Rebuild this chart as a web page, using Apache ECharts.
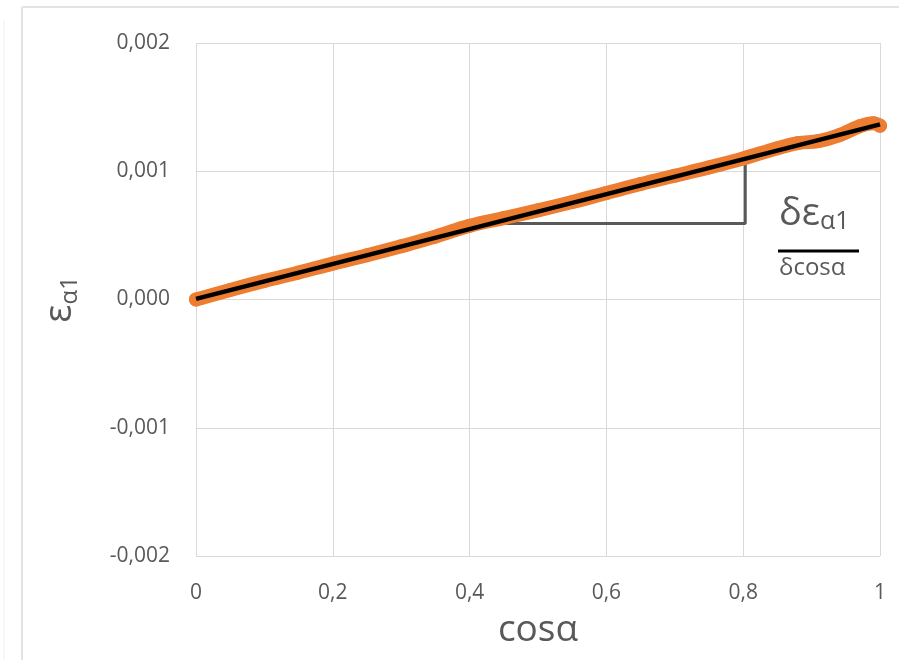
<!DOCTYPE html>
<html>
<head>
<meta charset="utf-8">
<script src="https://cdn.jsdelivr.net/npm/echarts@6/dist/echarts.min.js"></script>
<style>html,body{margin:0;padding:0;background:#fff}#c{width:899px;height:660px}</style>
</head>
<body>
<div id="c"></div>
<script>
// measured data (orange)
var cosA = [0, 0.05, 0.1, 0.15, 0.2, 0.25, 0.3, 0.35, 0.4, 0.45, 0.5, 0.55, 0.6, 0.65, 0.7, 0.75, 0.8, 0.85, 0.88, 0.91, 0.94, 0.97, 0.99, 1.0];
var eps = [0, 0.000075, 0.000145, 0.000210, 0.000280, 0.000345, 0.000415, 0.000490, 0.000575, 0.000635, 0.000695, 0.000760, 0.000830, 0.000900, 0.000965, 0.001030, 0.001100, 0.001180, 0.001220, 0.001235, 0.001280, 0.001350, 0.001375, 0.001355];
// linear fit (black)
var fitX = [0, 1];
var fitY = [0.000005, 0.001365];
// slope triangle (gray)
var triX = [0.434, 0.803, 0.803];
var triY = [0.000593, 0.000593, 0.00106];
// ticks
var xTicks = ['0', '0,2', '0,4', '0,6', '0,8', '1'];
var yTicks = ['-0,002', '-0,001', '0,000', '0,001', '0,002'];

function zip(a, b) { return a.map(function (v, i) { return [v, b[i]]; }); }

var FONT = 'Open Sans';
var TXT = '#595959';
var chart = echarts.init(document.getElementById('c'));
chart.setOption({
  animation: false,
  backgroundColor: '#fff',
  textStyle: { fontFamily: FONT },
  grid: { left: 196, right: 19, top: 43, bottom: 104 },
  xAxis: {
    type: 'value', min: 0, max: 1, interval: 0.2,
    axisLine: { show: false },
    axisTick: { show: false },
    splitLine: { lineStyle: { color: '#d9d9d9', width: 1 } },
    axisLabel: {
      margin: 27, color: TXT, fontSize: 21, fontFamily: FONT,
      formatter: function (v) { return xTicks[Math.round(v / 0.2)]; }
    },
    name: 'cosα', nameLocation: 'middle', nameGap: 56,
    nameTextStyle: { color: TXT, fontSize: 37, fontFamily: FONT }
  },
  yAxis: {
    type: 'value', min: -0.002, max: 0.002, interval: 0.001,
    axisLine: { show: false },
    axisTick: { show: false },
    splitLine: { lineStyle: { color: '#d9d9d9', width: 1 } },
    axisLabel: {
      margin: 26, color: TXT, fontSize: 21, fontFamily: FONT,
      formatter: function (v) { return yTicks[Math.round(v / 0.001) + 2]; }
    },
    name: '{e|ε}{s|α1}', nameLocation: 'middle', nameGap: 114, nameRotate: 90,
    nameTextStyle: {
      color: TXT, fontFamily: FONT,
      rich: {
        e: { fontSize: 38, color: TXT, fontFamily: FONT },
        s: { fontSize: 24, color: TXT, fontFamily: FONT, padding: [20, 0, 0, 0] }
      }
    }
  },
  series: [
    {
      type: 'line', data: zip(cosA, eps), smooth: 0.4, symbol: 'circle', symbolSize: 14,
      showSymbol: true,
      itemStyle: { color: '#ED7D31' },
      lineStyle: { color: '#ED7D31', width: 14, cap: 'round', join: 'round' },
      z: 2
    },
    {
      type: 'line', data: zip(triX, triY), symbol: 'none',
      lineStyle: { color: '#595959', width: 3 }, z: 1
    },
    {
      type: 'line', data: zip(fitX, fitY), symbol: 'none',
      lineStyle: { color: '#000', width: 4.5 }, z: 3
    }
  ],
  graphic: [
    { type: 'line', shape: { x1: 22, y1: 7, x2: 899, y2: 7 }, style: { stroke: '#e3e3e3', lineWidth: 2 } },
    { type: 'line', shape: { x1: 22, y1: 7, x2: 22, y2: 660 }, style: { stroke: '#e3e3e3', lineWidth: 2 } },
    { type: 'line', shape: { x1: 4, y1: 20, x2: 4, y2: 660 }, style: { stroke: '#eeeeee', lineWidth: 1 } },
    {
      type: 'text', left: 779, top: 195,
      style: {
        text: '{d|δε}{s|α1}', fill: TXT,
        rich: {
          d: { fontSize: 38, fontFamily: FONT, fill: TXT },
          s: { fontSize: 25, fontFamily: FONT, fill: TXT, padding: [16, 0, 0, 0] }
        }
      }
    },
    { type: 'line', shape: { x1: 778, y1: 251, x2: 859, y2: 251 }, style: { stroke: '#000', lineWidth: 3 } },
    {
      type: 'text', left: 779, top: 256,
      style: { text: 'δcosα', fontSize: 24, fontFamily: FONT, fill: TXT }
    }
  ]
});
</script>
</body>
</html>
